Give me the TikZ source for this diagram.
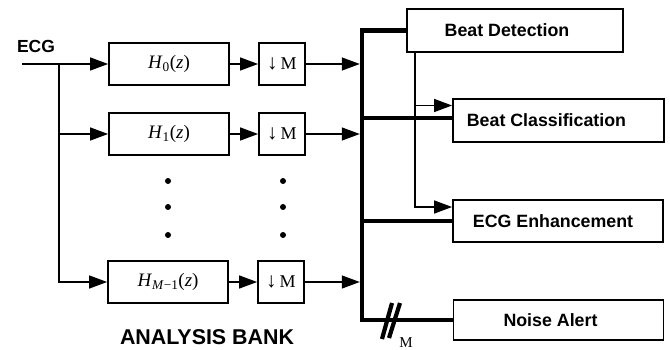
\documentclass[tikz,border=0pt]{standalone}
\usepackage{fontspec}
\setmainfont{Liberation Serif}
\newfontfamily\lsans{Liberation Sans}
\usetikzlibrary{arrows.meta}
\begin{document}
\begin{tikzpicture}[x=1pt,y=-1pt,
  box/.style={draw, line width=1.8pt, inner sep=0pt, font=\fontsize{19}{22}\selectfont},
  hbox/.style={box, minimum width=120pt, minimum height=42pt},
  dbox/.style={box, minimum width=46pt, minimum height=42pt, font=\fontsize{18}{22}\selectfont},
  obox/.style={box, minimum width=210pt, minimum height=42pt, font=\lsans\bfseries\fontsize{17.8}{20}\selectfont},
  thinl/.style={line width=1.3pt},
  arr/.style={thinl, -{Triangle[length=18pt,width=13pt]}},
  busline/.style={line width=4.5pt, line join=miter},
  lab/.style={font=\lsans\bfseries\fontsize{17.5}{20}\selectfont},
  dot/.style={circle, fill, inner sep=0pt, minimum size=6pt}]
\useasboundingbox (0,0) rectangle (670,350);

% analysis bank
\node[lab] (ecg) at (36,46) {ECG};
\node[hbox] (H0) at (169,64) {\textit{H}\textsubscript{0}(\textit{z})};
\node[hbox] (H1) at (169,134) {\textit{H}\textsubscript{1}(\textit{z})};
\node[hbox] (HM) at (168,282) {\textit{H}\textsubscript{\textit{M}−1}(\textit{z})};
\node[dbox] (D0) at (282,64) {{\fontsize{21}{22}\selectfont↓}\,M};
\node[dbox] (D1) at (282,134) {{\fontsize{21}{22}\selectfont↓}\,M};
\node[dbox] (D2) at (281,282) {{\fontsize{21}{22}\selectfont↓}\,M};
\node[font=\lsans\bfseries\fontsize{21.4}{24}\selectfont] (ab) at (207,337) {ANALYSIS BANK};

\node[dot] (a1) at (168,181) {};
\node[dot] (a2) at (168,207) {};
\node[dot] (a3) at (168,235) {};
\node[dot] (b1) at (283,181) {};
\node[dot] (b2) at (283,207) {};
\node[dot] (b3) at (283,235) {};

% output boxes
\node[obox, minimum width=216pt, minimum height=43pt] (BD) at (515,30.5) {Beat Detection\hspace*{16pt}};
\node[obox, minimum width=211pt, minimum height=43pt] (BC) at (558.5,120.5) {Beat Classification\hspace*{24pt}};
\node[obox] (EE) at (558,221) {ECG Enhancement\hspace*{10pt}};
\node[obox, minimum height=40pt] (NA) at (558.5,320) {Noise Alert\hspace*{16pt}};

% input connections
\coordinate (in) at (22,64);
\coordinate (br) at (59,64);
\draw[arr] (in) -- (H0.west);
\draw[arr] (br) |- (HM.west);
\draw[arr] (br |- H1.west) -- (H1.west);

\draw[arr] (H0.east) -- (D0.west);
\draw[arr] (H1.east) -- (D1.west);
\draw[arr] (HM.east) -- (D2.west);

% bus
\coordinate (bx) at (362,30.5);
\draw[busline] (BD.west) -- (bx) -- (bx |- NA.west) -- (NA.west);
\coordinate (bcj) at (0,118);
\draw[busline] (bx |- bcj) -- (BC.west |- bcj);
\draw[busline] (bx |- EE.west) -- (EE.west);

\draw[arr, shorten >=2.2pt] (D0.east) -- (bx |- D0.east);
\draw[arr, shorten >=2.2pt] (D1.east) -- (bx |- D1.east);
\draw[arr, shorten >=2.2pt] (D2.east) -- (bx |- D2.east);

% detection feed-forward
\coordinate (tx) at (415,0);
\coordinate (bcin) at ([yshift=15pt]BC.west);
\coordinate (eein) at ([yshift=14pt]EE.west);
\draw[arr] (tx |- BD.south) |- (eein);
\draw[arr] (tx |- bcin) -- (bcin);

% bus width mark
\draw[line width=4.2pt] (382,339) -- (392,303);
\draw[line width=4.2pt] (389,338) -- (400,303);
\node[font=\fontsize{15}{17}\selectfont] (mlab) at (406,343) {M};
\end{tikzpicture}
\end{document}
